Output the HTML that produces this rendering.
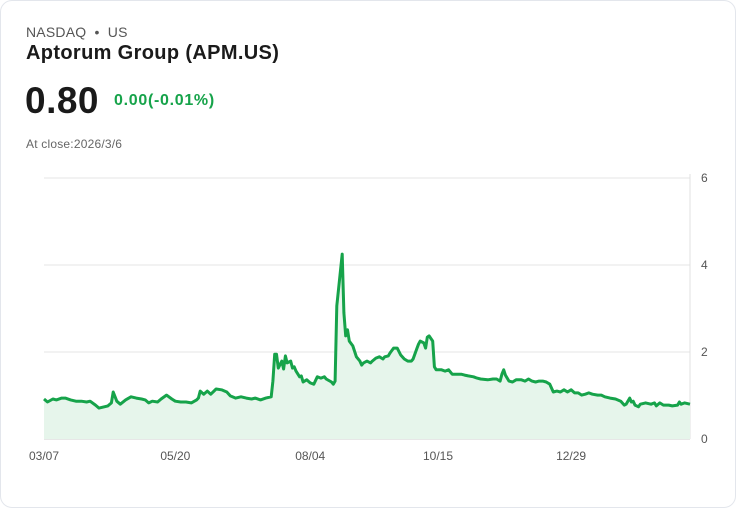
<!DOCTYPE html>
<html><head><meta charset="utf-8"><style>
html,body{margin:0;padding:0;background:#fff;}
body{width:736px;height:508px;position:relative;overflow:hidden;font-family:"Liberation Sans",sans-serif;}
.card{position:absolute;left:0;top:0;width:734px;height:506px;border:1px solid #e3e6ec;border-radius:12px;}
.t{position:absolute;white-space:nowrap;}
</style></head><body>
<div class="card">
<div class="t" style="left:25px;top:23px;font-size:14px;color:#555;letter-spacing:0.2px;">NASDAQ &nbsp;•&nbsp; US</div>
<div class="t" style="left:25px;top:41px;font-size:20px;font-weight:bold;color:#1a1a1a;letter-spacing:0.35px;">Aptorum Group (APM.US)</div>
<div class="t" style="left:24px;top:79px;font-size:37px;font-weight:bold;color:#1a1a1a;letter-spacing:0.5px;">0.80</div>
<div class="t" style="left:113px;top:91px;font-size:16px;font-weight:bold;color:#16a34a;letter-spacing:0.7px;">0.00(-0.01%)</div>
<div class="t" style="left:25px;top:136px;font-size:12px;color:#666;letter-spacing:0.2px;">At close:2026/3/6</div>
<svg id="chart" width="736" height="508" style="position:absolute;left:-1px;top:-1px;"></svg>
</div>
<script>
const days=[0,2,5,7,10,12,15,18,21,24,26,29,31,34,36,38,39,41,43,46,49,52,55,57,59,61,64,66,69,72,74,77,80,83,86,87,88,90,92,94,97,100,103,105,108,111,114,117,119,122,125,128,129,130,131,132,134,135,136,137,139,140,141,142,144,145,146,148,150,152,154,156,158,159,162,163,164,165,168,169,170,171,172,174,176,178,179,180,182,184,185,187,189,191,192,194,195,197,199,201,203,205,207,208,210,211,212,214,215,216,217,219,220,221,224,226,228,230,233,235,237,239,242,244,246,250,253,255,257,258,259,260,262,264,266,269,271,273,275,277,279,281,283,285,287,289,291,293,295,297,299,301,303,305,307,309,312,314,316,319,322,325,327,328,330,331,332,333,335,336,339,342,344,345,347,349,352,354,357,358,359,361,364];
const prices=[0.92,0.85,0.92,0.90,0.94,0.94,0.90,0.87,0.87,0.85,0.87,0.78,0.71,0.74,0.76,0.83,1.08,0.87,0.80,0.90,0.97,0.94,0.92,0.90,0.83,0.87,0.85,0.92,1.01,0.92,0.87,0.85,0.85,0.83,0.90,0.94,1.10,1.03,1.10,1.03,1.15,1.13,1.08,0.99,0.94,0.97,0.94,0.92,0.94,0.90,0.94,0.97,1.33,1.95,1.95,1.63,1.79,1.61,1.91,1.75,1.79,1.63,1.66,1.56,1.43,1.45,1.31,1.36,1.29,1.26,1.43,1.40,1.43,1.38,1.31,1.26,1.33,3.06,4.25,2.90,2.37,2.51,2.25,2.14,1.89,1.79,1.70,1.75,1.79,1.75,1.79,1.86,1.89,1.84,1.89,1.91,1.98,2.09,2.09,1.93,1.84,1.79,1.79,1.84,2.07,2.18,2.25,2.21,2.09,2.34,2.37,2.25,1.66,1.59,1.59,1.56,1.59,1.49,1.49,1.49,1.47,1.45,1.43,1.40,1.38,1.36,1.38,1.38,1.33,1.49,1.59,1.47,1.33,1.31,1.36,1.36,1.33,1.38,1.33,1.31,1.33,1.33,1.31,1.26,1.08,1.10,1.08,1.13,1.08,1.13,1.06,1.06,1.01,1.03,1.06,1.03,1.01,1.01,0.97,0.94,0.92,0.87,0.78,0.80,0.94,0.85,0.87,0.78,0.74,0.80,0.83,0.80,0.83,0.76,0.83,0.78,0.78,0.76,0.78,0.85,0.80,0.83,0.80];
const yTicks=[0,2,4,6];
const xLabels=["03/07","05/20","08/04","10/15","12/29"];
const xLabelDays=[0,74,150,222,297];

const svg=document.getElementById('chart');
const NS='http://www.w3.org/2000/svg';
const X0=44,X1=690,Y0=439,Y1=178;
const xs=d=>X0+d/364*(X1-X0);
const ys=v=>Y0-v/6*(Y0-Y1);
function mk(tag,attrs){const e=document.createElementNS(NS,tag);for(const k in attrs)e.setAttribute(k,attrs[k]);svg.appendChild(e);return e;}
yTicks.forEach(v=>{
  const g=mk('line',{x1:X0,x2:X1,y1:ys(v),y2:ys(v),stroke:v===0?'#cfcfcf':'#e6e6e6','stroke-width':1});
  
  
  const t=mk('text',{x:X1+11,y:ys(v)+4,'font-size':12,fill:'#555','font-family':'Liberation Sans, sans-serif'});
  t.textContent=v;
  
  
});
const ax=mk('line',{x1:X1,x2:X1,y1:Y1-4,y2:Y0,stroke:'#e0e0e0','stroke-width':1});


xLabels.forEach((l,i)=>{
  const t=mk('text',{x:xs(xLabelDays[i]),y:460,'font-size':12,fill:'#555','text-anchor':'middle','font-family':'Liberation Sans, sans-serif'});
  t.textContent=l;
  
  
});
let d='';
days.forEach((dd,i)=>{d+=(i?'L':'M')+xs(dd).toFixed(1)+','+ys(prices[i]).toFixed(1);});
const area=mk('path',{d:d+'L'+xs(days[days.length-1])+','+Y0+'L'+xs(days[0])+','+Y0+'Z',fill:'#e6f5eb'});


const line=mk('path',{d:d,fill:'none',stroke:'#16a34a','stroke-width':3,'stroke-linejoin':'round'});


</script>
</body></html>
